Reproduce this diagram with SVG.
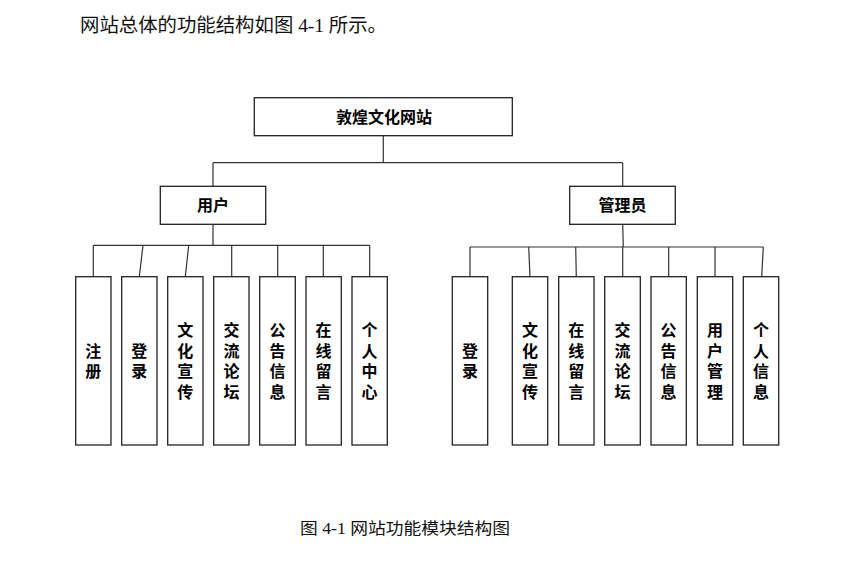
<svg xmlns="http://www.w3.org/2000/svg" width="841" height="563" viewBox="0 0 841 563">
<style>
.box{fill:#fff;stroke:#222;stroke-width:1.3}
.ln{fill:none;stroke:#333;stroke-width:1.2}
.t{font-family:"Liberation Sans","Noto Sans CJK SC",sans-serif;font-weight:bold;font-size:16px;fill:#000;text-anchor:middle;dominant-baseline:central}
.body{font-family:"Liberation Serif","Noto Sans CJK SC",serif;fill:#111}
</style>
<rect width="841" height="563" fill="#fff"/>
<text class="body" x="80" y="32" font-size="19" textLength="307" lengthAdjust="spacingAndGlyphs">网站总体的功能结构如图 4-1 所示。</text>
<g id="connectors" class="ln">
<path d="M383.3 136V162.7M213 162.7H622.7M213 162.7V186.3M622.7 162.7V186.3"/>
<path d="M213 224.3V245.3M93.3 245.3H369.7"/>
<path d="M93.3 245.3V276.7M143 245.3L139.3 276.7M188.7 245.3L185.3 276.7M231.7 245.3V276.7M277.7 245.3V276.7M323.3 245.3V276.7M369.7 245.3V276.7"/>
<path d="M622.7 224.3L623.3 247M470 247H763.3"/>
<path d="M470 247V276.7M528.7 247L530 276.7M575.7 247L576.3 276.7M622.7 247V276.7M668.7 247V276.7M715 247V276.7M763.3 247L761.7 276.7"/>
</g>
<g id="root"><rect class="box" x="254.3" y="97.7" width="258" height="38"/><text class="t" x="384" y="117">敦煌文化网站</text></g>
<g id="user"><rect class="box" x="160.3" y="186.3" width="105.4" height="38"/><text class="t" x="213" y="205.5">用户</text></g>
<g id="admin"><rect class="box" x="569.7" y="186.3" width="105.6" height="38"/><text class="t" x="622.5" y="205.5">管理员</text></g>
<g id="u1"><rect class="box" x="75.7" y="276.7" width="35.3" height="168.3"/><text class="t" x="93.3"><tspan x="93.3" y="350.5">注</tspan><tspan x="93.3" y="371">册</tspan></text></g>
<g id="u2"><rect class="box" x="121.7" y="276.7" width="35.3" height="168.3"/><text class="t"><tspan x="139.3" y="350.5">登</tspan><tspan x="139.3" y="371">录</tspan></text></g>
<g id="u3"><rect class="box" x="167.7" y="276.7" width="35.3" height="168.3"/><text class="t"><tspan x="185.3" y="330">文</tspan><tspan x="185.3" y="350.5">化</tspan><tspan x="185.3" y="371">宣</tspan><tspan x="185.3" y="391.5">传</tspan></text></g>
<g id="u4"><rect class="box" x="213.7" y="276.7" width="35.3" height="168.3"/><text class="t"><tspan x="231.5" y="330">交</tspan><tspan x="231.5" y="350.5">流</tspan><tspan x="231.5" y="371">论</tspan><tspan x="231.5" y="391.5">坛</tspan></text></g>
<g id="u5"><rect class="box" x="259.7" y="276.7" width="35.6" height="168.3"/><text class="t"><tspan x="277.5" y="330">公</tspan><tspan x="277.5" y="350.5">告</tspan><tspan x="277.5" y="371">信</tspan><tspan x="277.5" y="391.5">息</tspan></text></g>
<g id="u6"><rect class="box" x="306" y="276.7" width="35.3" height="168.3"/><text class="t"><tspan x="323.6" y="330">在</tspan><tspan x="323.6" y="350.5">线</tspan><tspan x="323.6" y="371">留</tspan><tspan x="323.6" y="391.5">言</tspan></text></g>
<g id="u7"><rect class="box" x="352" y="276.7" width="35.3" height="168.3"/><text class="t"><tspan x="369.6" y="330">个</tspan><tspan x="369.6" y="350.5">人</tspan><tspan x="369.6" y="371">中</tspan><tspan x="369.6" y="391.5">心</tspan></text></g>
<g id="a1"><rect class="box" x="452.3" y="276.7" width="35.4" height="168.3"/><text class="t"><tspan x="470" y="350.5">登</tspan><tspan x="470" y="371">录</tspan></text></g>
<g id="a2"><rect class="box" x="512.3" y="276.7" width="35.4" height="168.3"/><text class="t"><tspan x="530" y="330">文</tspan><tspan x="530" y="350.5">化</tspan><tspan x="530" y="371">宣</tspan><tspan x="530" y="391.5">传</tspan></text></g>
<g id="a3"><rect class="box" x="558.7" y="276.7" width="35.3" height="168.3"/><text class="t"><tspan x="576.3" y="330">在</tspan><tspan x="576.3" y="350.5">线</tspan><tspan x="576.3" y="371">留</tspan><tspan x="576.3" y="391.5">言</tspan></text></g>
<g id="a4"><rect class="box" x="604.7" y="276.7" width="35.6" height="168.3"/><text class="t"><tspan x="622.5" y="330">交</tspan><tspan x="622.5" y="350.5">流</tspan><tspan x="622.5" y="371">论</tspan><tspan x="622.5" y="391.5">坛</tspan></text></g>
<g id="a5"><rect class="box" x="651" y="276.7" width="35.3" height="168.3"/><text class="t"><tspan x="668.6" y="330">公</tspan><tspan x="668.6" y="350.5">告</tspan><tspan x="668.6" y="371">信</tspan><tspan x="668.6" y="391.5">息</tspan></text></g>
<g id="a6"><rect class="box" x="697.3" y="276.7" width="35.4" height="168.3"/><text class="t"><tspan x="715" y="330">用</tspan><tspan x="715" y="350.5">户</tspan><tspan x="715" y="371">管</tspan><tspan x="715" y="391.5">理</tspan></text></g>
<g id="a7"><rect class="box" x="743.3" y="276.7" width="35.4" height="168.3"/><text class="t"><tspan x="761" y="330">个</tspan><tspan x="761" y="350.5">人</tspan><tspan x="761" y="371">信</tspan><tspan x="761" y="391.5">息</tspan></text></g>
<text class="body" x="300" y="534" font-size="16" textLength="210" lengthAdjust="spacingAndGlyphs">图 4-1 网站功能模块结构图</text>
</svg>
